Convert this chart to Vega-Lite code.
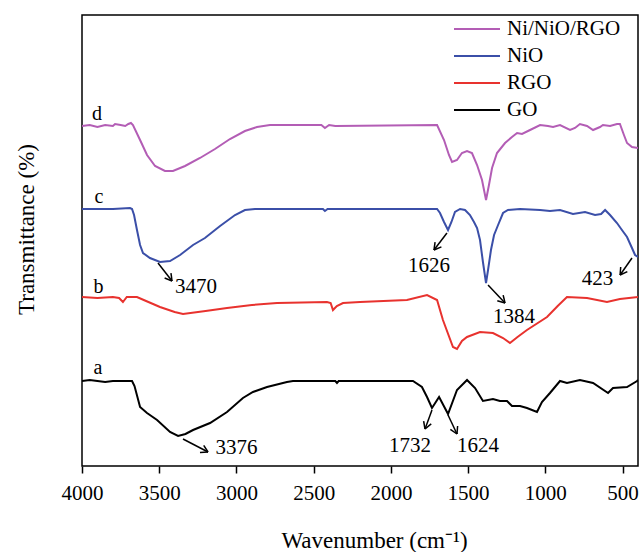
{
  "$schema": "https://vega.github.io/schema/vega-lite/v6.json",
  "width": 556,
  "height": 451,
  "autosize": {"type": "none"},
  "padding": {"left": 82, "top": 15, "right": 1, "bottom": 86},
  "background": "white",
  "config": {
    "view": {"stroke": "black", "strokeWidth": 1.5},
    "font": "Liberation Serif",
    "legend": {
      "orient": "none",
      "legendX": 371,
      "legendY": 2,
      "padding": 0,
      "symbolType": "stroke",
      "symbolSize": 2116,
      "symbolStrokeWidth": 2,
      "clipHeight": 24,
      "labelFont": "Liberation Serif",
      "labelFontSize": 21,
      "labelColor": "black",
      "labelOffset": 6,
      "rowPadding": 3
    }
  },
  "datasets": {
    "spectra": [
      {"s":"GO","w":4000,"t":85},{"s":"GO","w":3950,"t":86},{"s":"GO","w":3900,"t":85},{"s":"GO","w":3850,"t":84},{"s":"GO","w":3800,"t":85},{"s":"GO","w":3750,"t":85},{"s":"GO","w":3700,"t":85},{"s":"GO","w":3676,"t":85},{"s":"GO","w":3660,"t":80},{"s":"GO","w":3624,"t":59},{"s":"GO","w":3579,"t":53},{"s":"GO","w":3514,"t":46},{"s":"GO","w":3430,"t":34},{"s":"GO","w":3378,"t":30},{"s":"GO","w":3330,"t":32},{"s":"GO","w":3281,"t":36},{"s":"GO","w":3171,"t":43},{"s":"GO","w":3061,"t":54},{"s":"GO","w":2958,"t":68},{"s":"GO","w":2893,"t":74},{"s":"GO","w":2802,"t":79},{"s":"GO","w":2673,"t":84},{"s":"GO","w":2634,"t":85},{"s":"GO","w":2500,"t":85},{"s":"GO","w":2360,"t":85},{"s":"GO","w":2349,"t":83},{"s":"GO","w":2338,"t":85},{"s":"GO","w":2000,"t":85},{"s":"GO","w":1857,"t":85},{"s":"GO","w":1799,"t":79},{"s":"GO","w":1766,"t":69},{"s":"GO","w":1734,"t":58},{"s":"GO","w":1688,"t":69},{"s":"GO","w":1630,"t":52},{"s":"GO","w":1572,"t":76},{"s":"GO","w":1507,"t":86},{"s":"GO","w":1455,"t":78},{"s":"GO","w":1404,"t":65},{"s":"GO","w":1339,"t":67},{"s":"GO","w":1294,"t":65},{"s":"GO","w":1248,"t":65},{"s":"GO","w":1216,"t":60},{"s":"GO","w":1164,"t":60},{"s":"GO","w":1119,"t":58},{"s":"GO","w":1054,"t":54},{"s":"GO","w":1022,"t":64},{"s":"GO","w":970,"t":73},{"s":"GO","w":905,"t":85},{"s":"GO","w":860,"t":83},{"s":"GO","w":776,"t":86},{"s":"GO","w":691,"t":83},{"s":"GO","w":594,"t":73},{"s":"GO","w":562,"t":78},{"s":"GO","w":471,"t":79},{"s":"GO","w":406,"t":85},{"s":"GO","w":400,"t":86},
      {"s":"RGO","w":4000,"t":169},{"s":"RGO","w":3900,"t":168},{"s":"RGO","w":3800,"t":169},{"s":"RGO","w":3760,"t":168},{"s":"RGO","w":3735,"t":164},{"s":"RGO","w":3710,"t":169},{"s":"RGO","w":3644,"t":169},{"s":"RGO","w":3600,"t":166},{"s":"RGO","w":3495,"t":159},{"s":"RGO","w":3400,"t":154},{"s":"RGO","w":3346,"t":152},{"s":"RGO","w":3200,"t":155},{"s":"RGO","w":3061,"t":158},{"s":"RGO","w":2900,"t":161},{"s":"RGO","w":2737,"t":163},{"s":"RGO","w":2414,"t":164},{"s":"RGO","w":2390,"t":163},{"s":"RGO","w":2375,"t":156},{"s":"RGO","w":2350,"t":160},{"s":"RGO","w":2310,"t":163},{"s":"RGO","w":2200,"t":164},{"s":"RGO","w":1896,"t":166},{"s":"RGO","w":1766,"t":171},{"s":"RGO","w":1701,"t":166},{"s":"RGO","w":1663,"t":146},{"s":"RGO","w":1598,"t":119},{"s":"RGO","w":1572,"t":117},{"s":"RGO","w":1540,"t":125},{"s":"RGO","w":1507,"t":129},{"s":"RGO","w":1423,"t":134},{"s":"RGO","w":1339,"t":133},{"s":"RGO","w":1274,"t":128},{"s":"RGO","w":1229,"t":123},{"s":"RGO","w":1180,"t":129},{"s":"RGO","w":1119,"t":136},{"s":"RGO","w":989,"t":149},{"s":"RGO","w":920,"t":160},{"s":"RGO","w":860,"t":169},{"s":"RGO","w":730,"t":168},{"s":"RGO","w":601,"t":164},{"s":"RGO","w":517,"t":167},{"s":"RGO","w":400,"t":169},
      {"s":"NiO","w":4000,"t":257},{"s":"NiO","w":3800,"t":257},{"s":"NiO","w":3689,"t":258},{"s":"NiO","w":3676,"t":257},{"s":"NiO","w":3663,"t":251},{"s":"NiO","w":3644,"t":236},{"s":"NiO","w":3624,"t":221},{"s":"NiO","w":3605,"t":213},{"s":"NiO","w":3560,"t":208},{"s":"NiO","w":3495,"t":204},{"s":"NiO","w":3430,"t":205},{"s":"NiO","w":3365,"t":211},{"s":"NiO","w":3281,"t":221},{"s":"NiO","w":3204,"t":228},{"s":"NiO","w":3106,"t":240},{"s":"NiO","w":3009,"t":251},{"s":"NiO","w":2945,"t":256},{"s":"NiO","w":2880,"t":257},{"s":"NiO","w":2440,"t":257},{"s":"NiO","w":2427,"t":255},{"s":"NiO","w":2410,"t":257},{"s":"NiO","w":1701,"t":257},{"s":"NiO","w":1682,"t":253},{"s":"NiO","w":1656,"t":244},{"s":"NiO","w":1630,"t":236},{"s":"NiO","w":1608,"t":244},{"s":"NiO","w":1585,"t":254},{"s":"NiO","w":1552,"t":257},{"s":"NiO","w":1520,"t":256},{"s":"NiO","w":1488,"t":251},{"s":"NiO","w":1462,"t":244},{"s":"NiO","w":1442,"t":238},{"s":"NiO","w":1423,"t":226},{"s":"NiO","w":1404,"t":204},{"s":"NiO","w":1384,"t":183},{"s":"NiO","w":1371,"t":196},{"s":"NiO","w":1352,"t":216},{"s":"NiO","w":1332,"t":231},{"s":"NiO","w":1306,"t":241},{"s":"NiO","w":1274,"t":253},{"s":"NiO","w":1242,"t":256},{"s":"NiO","w":1164,"t":257},{"s":"NiO","w":1034,"t":256},{"s":"NiO","w":970,"t":255},{"s":"NiO","w":905,"t":256},{"s":"NiO","w":821,"t":252},{"s":"NiO","w":743,"t":254},{"s":"NiO","w":678,"t":251},{"s":"NiO","w":639,"t":252},{"s":"NiO","w":613,"t":256},{"s":"NiO","w":581,"t":251},{"s":"NiO","w":536,"t":243},{"s":"NiO","w":504,"t":236},{"s":"NiO","w":471,"t":229},{"s":"NiO","w":439,"t":218},{"s":"NiO","w":419,"t":211},{"s":"NiO","w":400,"t":209},
      {"s":"Ni/NiO/RGO","w":4000,"t":340},{"s":"Ni/NiO/RGO","w":3950,"t":341},{"s":"Ni/NiO/RGO","w":3900,"t":339},{"s":"Ni/NiO/RGO","w":3850,"t":341},{"s":"Ni/NiO/RGO","w":3800,"t":340},{"s":"Ni/NiO/RGO","w":3786,"t":342},{"s":"Ni/NiO/RGO","w":3750,"t":341},{"s":"Ni/NiO/RGO","w":3720,"t":340},{"s":"Ni/NiO/RGO","w":3700,"t":342},{"s":"Ni/NiO/RGO","w":3683,"t":343},{"s":"Ni/NiO/RGO","w":3670,"t":341},{"s":"Ni/NiO/RGO","w":3624,"t":326},{"s":"Ni/NiO/RGO","w":3579,"t":311},{"s":"Ni/NiO/RGO","w":3527,"t":300},{"s":"Ni/NiO/RGO","w":3463,"t":295},{"s":"Ni/NiO/RGO","w":3411,"t":295},{"s":"Ni/NiO/RGO","w":3333,"t":300},{"s":"Ni/NiO/RGO","w":3236,"t":308},{"s":"Ni/NiO/RGO","w":3139,"t":317},{"s":"Ni/NiO/RGO","w":3042,"t":327},{"s":"Ni/NiO/RGO","w":2945,"t":335},{"s":"Ni/NiO/RGO","w":2867,"t":339},{"s":"Ni/NiO/RGO","w":2783,"t":341},{"s":"Ni/NiO/RGO","w":2450,"t":341},{"s":"Ni/NiO/RGO","w":2427,"t":338},{"s":"Ni/NiO/RGO","w":2400,"t":341},{"s":"Ni/NiO/RGO","w":2360,"t":340},{"s":"Ni/NiO/RGO","w":1701,"t":341},{"s":"Ni/NiO/RGO","w":1656,"t":326},{"s":"Ni/NiO/RGO","w":1624,"t":311},{"s":"Ni/NiO/RGO","w":1604,"t":304},{"s":"Ni/NiO/RGO","w":1572,"t":306},{"s":"Ni/NiO/RGO","w":1540,"t":313},{"s":"Ni/NiO/RGO","w":1507,"t":315},{"s":"Ni/NiO/RGO","w":1475,"t":313},{"s":"Ni/NiO/RGO","w":1442,"t":301},{"s":"Ni/NiO/RGO","w":1410,"t":286},{"s":"Ni/NiO/RGO","w":1384,"t":266},{"s":"Ni/NiO/RGO","w":1365,"t":281},{"s":"Ni/NiO/RGO","w":1345,"t":298},{"s":"Ni/NiO/RGO","w":1313,"t":313},{"s":"Ni/NiO/RGO","w":1261,"t":323},{"s":"Ni/NiO/RGO","w":1216,"t":329},{"s":"Ni/NiO/RGO","w":1183,"t":333},{"s":"Ni/NiO/RGO","w":1151,"t":332},{"s":"Ni/NiO/RGO","w":1099,"t":336},{"s":"Ni/NiO/RGO","w":1034,"t":341},{"s":"Ni/NiO/RGO","w":983,"t":340},{"s":"Ni/NiO/RGO","w":950,"t":339},{"s":"Ni/NiO/RGO","w":905,"t":341},{"s":"Ni/NiO/RGO","w":840,"t":336},{"s":"Ni/NiO/RGO","w":808,"t":338},{"s":"Ni/NiO/RGO","w":776,"t":342},{"s":"Ni/NiO/RGO","w":730,"t":340},{"s":"Ni/NiO/RGO","w":691,"t":336},{"s":"Ni/NiO/RGO","w":646,"t":339},{"s":"Ni/NiO/RGO","w":627,"t":341},{"s":"Ni/NiO/RGO","w":581,"t":340},{"s":"Ni/NiO/RGO","w":536,"t":342},{"s":"Ni/NiO/RGO","w":517,"t":342},{"s":"Ni/NiO/RGO","w":491,"t":331},{"s":"Ni/NiO/RGO","w":471,"t":323},{"s":"Ni/NiO/RGO","w":439,"t":319},{"s":"Ni/NiO/RGO","w":400,"t":318}
    ],
    "arrows": [
      {"x":3508,"y":203,"x2":3417,"y2":185},{"x":3424,"y":192.9,"x2":3417,"y2":185},{"x":3465,"y":188,"x2":3417,"y2":185},
      {"x":3346,"y":27,"x2":3184,"y2":14},{"x":3212,"y":20.7,"x2":3184,"y2":14},{"x":3236,"y":13.6,"x2":3184,"y2":14},
      {"x":1734,"y":56,"x2":1779,"y2":37},{"x":1739,"y":42.1,"x2":1779,"y2":37},{"x":1788,"y":44.9,"x2":1779,"y2":37},
      {"x":1630,"y":51,"x2":1572,"y2":32},{"x":1568,"y":40,"x2":1572,"y2":32},{"x":1615,"y":36.6,"x2":1572,"y2":32},
      {"x":1371,"y":181,"x2":1261,"y2":163},{"x":1273,"y":170.8,"x2":1261,"y2":163},{"x":1311,"y":165.3,"x2":1261,"y2":163},
      {"x":1637,"y":233,"x2":1721,"y2":216},{"x":1673,"y":219.1,"x2":1721,"y2":216},{"x":1714,"y":223.9,"x2":1721,"y2":216},
      {"x":439,"y":208,"x2":516,"y2":191},{"x":469,"y":194.4,"x2":516,"y2":191},{"x":512,"y":199,"x2":516,"y2":191}
    ],
    "notes": [
      {"label":"3470","x":3262,"y":173},
      {"label":"3376","x":2999,"y":12},
      {"label":"1732","x":1876,"y":14},
      {"label":"1624","x":1436,"y":14},
      {"label":"1384","x":1203,"y":143},
      {"label":"1626","x":1753,"y":194},
      {"label":"423","x":662,"y":181}
    ],
    "tags": [
      {"label":"d","x":3903,"y":346},
      {"label":"c","x":3890,"y":263},
      {"label":"b","x":3893,"y":173},
      {"label":"a","x":3896,"y":92}
    ]
  },
  "layer": [
    {
      "data": {"name": "spectra"},
      "mark": {"type": "line", "strokeWidth": 2, "clip": true},
      "encoding": {
        "x": {
          "field": "w", "type": "quantitative",
          "scale": {"domain": [400, 4000], "reverse": true, "nice": false, "zero": false},
          "axis": {
            "title": "Wavenumber (cm⁻¹)",
            "titleFont": "Liberation Serif", "titleFontSize": 23, "titleFontWeight": "normal", "titleColor": "black",
            "titlePadding": 26, "titleX": 292, "titleAlign": "center",
            "values": [4000, 3750, 3500, 3250, 3000, 2750, 2500, 2250, 2000, 1750, 1500, 1250, 1000, 750, 500],
            "labelExpr": "datum.value % 500 === 0 ? datum.label : ''",
            "format": "d",
            "labelFont": "Liberation Serif", "labelFontSize": 21, "labelColor": "black",
            "labelPadding": 9, "labelFlush": false, "labelOverlap": false, "labelBound": false,
            "domain": false, "grid": false,
            "tickColor": "black", "tickSize": 7, "tickWidth": 1.5
          }
        },
        "y": {
          "field": "t", "type": "quantitative",
          "scale": {"domain": [0, 451], "nice": false, "zero": false},
          "axis": {
            "title": "Transmittance (%)",
            "titleFont": "Liberation Serif", "titleFontSize": 23, "titleFontWeight": "normal", "titleColor": "black",
            "titlePadding": 44, "titleY": 214,
            "labels": false, "ticks": false, "domain": false, "grid": false
          }
        },
        "color": {
          "field": "s", "type": "nominal",
          "scale": {"domain": ["Ni/NiO/RGO", "NiO", "RGO", "GO"], "range": ["#b35db5", "#3b4fa8", "#e8322e", "#000000"]},
          "legend": {"title": null}
        }
      }
    },
    {
      "data": {"name": "arrows"},
      "mark": {"type": "rule", "color": "black", "strokeWidth": 1.5},
      "encoding": {
        "x": {"field": "x", "type": "quantitative"},
        "y": {"field": "y", "type": "quantitative"},
        "x2": {"field": "x2"},
        "y2": {"field": "y2"}
      }
    },
    {
      "data": {"name": "notes"},
      "mark": {"type": "text", "font": "Liberation Serif", "fontSize": 21, "align": "center", "baseline": "alphabetic", "color": "black"},
      "encoding": {
        "x": {"field": "x", "type": "quantitative"},
        "y": {"field": "y", "type": "quantitative"},
        "text": {"field": "label"}
      }
    },
    {
      "data": {"name": "tags"},
      "mark": {"type": "text", "font": "Liberation Serif", "fontSize": 20, "align": "center", "baseline": "alphabetic", "color": "black"},
      "encoding": {
        "x": {"field": "x", "type": "quantitative"},
        "y": {"field": "y", "type": "quantitative"},
        "text": {"field": "label"}
      }
    }
  ]
}
